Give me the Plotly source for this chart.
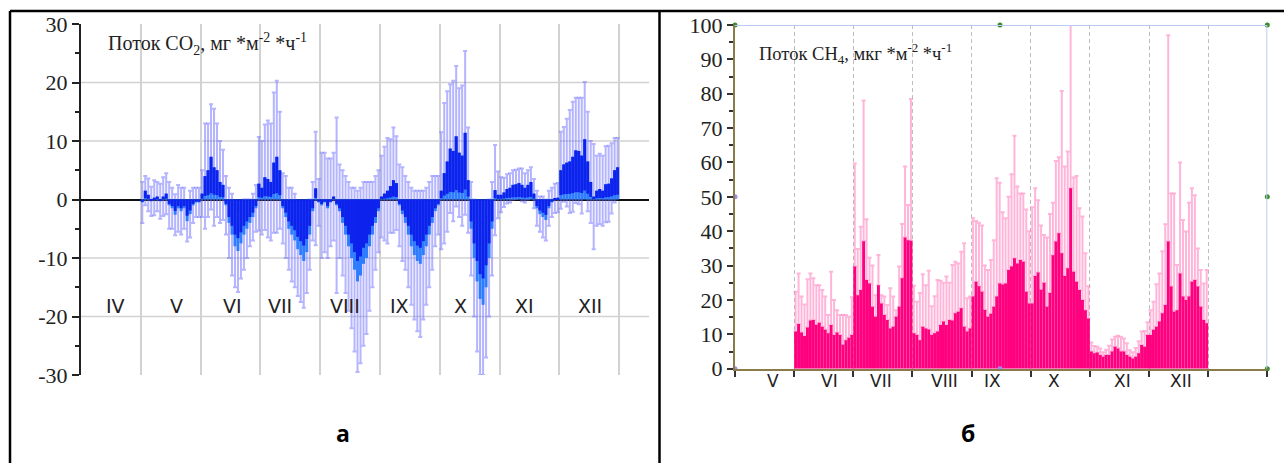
import plotly.graph_objects as go

# ---- CO2 flux, mg m-2 h-1 (20 sub-periods per month, V..XII) ----
co2_may = [-0.5, 1.5, 0.8, -0.3, 0.3, 0.5, -0.3, 0.5, 1.0, -1.0, -1.5, -2.6, -1.5, -2.0, -1.5, -3.7, -2.5, -1.0, -0.5, -0.5]
co2_may_sd = [3.5, 2.5, 2.8, 2.5, 3.0, 2.5, 3.0, 3.3, 3.5, 4.0, 3.5, 3.5, 4.0, 4.0, 3.5, 3.5, 4.0, 3.0, 2.5, 2.5]
co2_jun = [1.0, 4.0, 5.0, 7.3, 5.5, 5.0, 3.0, 2.5, -1.0, -4.0, -6.0, -8.0, -8.8, -7.5, -6.0, -5.0, -4.0, -3.0, -1.5, 2.7]
co2_jun_sd = [4, 9, 8, 9, 10, 8, 7, 6, 5, 6, 7, 7, 7, 6, 6, 5, 4, 4, 4, 8]
co2_jul = [2.0, 3.8, 3.5, 3.0, 6.3, 7.3, 5.0, -1.5, -3.0, -5.0, -6.0, -7.0, -8.5, -9.5, -10.5, -9.0, -6.0, -2.0, 1.9, -0.5]
co2_jul_sd = [8, 9, 10, 10, 12, 13, 10, 6, 7, 7, 8, 8, 8, 8, 8, 7, 6, 5, 9.7, 4]
co2_aug = [-1.0, -0.5, -1.5, -0.5, 0.5, -1.0, -2.0, -4.0, -6.0, -8.0, -10.0, -12.0, -14.0, -13.0, -11.0, -10.0, -8.0, -6.0, -4.0, -2.0]
co2_aug_sd = [9, 8.5, 8.5, 7.5, 7.5, 15, 8, 9, 10, 11, 12, 14, 15.5, 15, 14, 13, 11, 9, 8, 7]
co2_sep = [0.5, 1.0, 1.5, 2.3, 3.3, 2.8, -1.0, -2.5, -4.0, -6.0, -8.0, -9.5, -10.5, -11.0, -9.5, -8.0, -6.0, -4.0, -2.0, -1.0]
co2_sep_sd = [7, 8, 9, 8, 9, 8, 7, 8, 8, 9, 10, 11, 12, 12.5, 11, 10, 9, 8, 6, 5]
co2_oct = [1.5, 4.5, 6.5, 8.7, 8.3, 10.8, 8.0, 7.5, 11.4, 3.3, -5.0, -10.0, -14.0, -17.0, -18.0, -15.0, -10.0, -5.0, 1.6, 0.8]
co2_oct_sd = [10, 12, 12, 11, 12, 12, 11, 12, 14, 9, 8, 10, 12, 13, 12, 12, 10, 8, 7.7, 4]
co2_nov = [0.8, 1.2, 1.8, 2.0, 2.5, 2.6, 2.8, 2.5, 2.0, 2.5, 3.0, 1.0, -1.5, -2.5, -3.0, -3.5, -1.5, -0.5, 0.2, 0.3]
co2_nov_sd = [3, 2.5, 2.5, 2.5, 2.5, 2.5, 2.5, 2.8, 2.5, 2.5, 2.5, 2.5, 3, 3, 3.5, 3.5, 3, 2.5, 2.5, 2.5]
co2_dec = [5.0, 6.0, 6.3, 6.5, 7.3, 8.4, 8.3, 7.5, 10.3, 6.5, 3.0, 0.5, 1.5, 1.8, 1.5, 2.6, 2.7, 3.6, 5.0, 5.5]
co2_dec_sd = [6.6, 6.4, 7.5, 8.8, 9.4, 9.0, 9.1, 9.9, 9.8, 8.5, 7.0, 9.0, 6, 6, 6, 6.5, 6.5, 6, 5.5, 5]

# ---- CH4 flux, ug m-2 h-1 (20 sub-periods per month, VI..XII) ----
ch4_jun = [10.8, 13.0, 10.5, 9.5, 12.0, 14.0, 14.2, 12.8, 13.4, 12.2, 11.3, 10.3, 12.7, 9.8, 10.5, 9.8, 7.0, 8.3, 9.0, 9.8]
ch4_jun_sd = [11.6, 14.7, 10.5, 9.2, 14.0, 13.7, 12.1, 11.5, 10.9, 10.7, 9.7, 5.3, 15.5, 10.2, 6.5, 5.8, 8.6, 7.3, 6.1, 11.0]
ch4_jul = [29.7, 21.4, 22.9, 37.1, 25.8, 24.8, 18.0, 15.1, 24.3, 19.0, 15.6, 14.2, 11.7, 12.2, 15.1, 18.0, 26.3, 38.2, 37.4, 37.2]
ch4_jul_sd = [30.0, 13.4, 18.4, 40.9, 17.7, 7.5, 12.0, 6.3, 8.8, 2.4, 5.4, 4.3, 11.7, 8.8, 1.9, 11.7, 15.8, 20.6, 10.2, 41.3]
ch4_aug = [10.3, 9.8, 8.3, 12.2, 11.7, 11.4, 9.8, 10.3, 10.8, 12.7, 13.7, 12.7, 14.2, 14.0, 16.1, 16.6, 17.6, 12.2, 10.8, 11.7]
ch4_aug_sd = [13.8, 9.7, 13.7, 15.3, 12.6, 17.1, 8.4, 10.8, 15.0, 12.9, 11.3, 14.1, 10.8, 16.2, 15.0, 14.0, 16.4, 24.3, 9.7, 9.3]
ch4_sep = [21.0, 25.3, 24.0, 22.4, 17.1, 15.1, 16.0, 18.0, 21.0, 24.8, 24.5, 24.8, 28.7, 29.7, 32.1, 30.6, 31.6, 31.1, 22.4, 19.0]
ch4_sep_sd = [22.8, 17.7, 18.5, 19.3, 12.9, 13.6, 15.6, 19.4, 34.4, 29.3, 21.0, 19.0, 21.3, 26.9, 35.7, 22.4, 19.4, 19.9, 23.9, 21.0]
ch4_oct = [19.0, 27.0, 28.0, 23.0, 25.0, 18.0, 22.0, 33.0, 37.0, 39.4, 33.6, 27.0, 29.2, 52.5, 28.2, 25.3, 22.9, 20.0, 17.0, 14.6]
ch4_oct_sd = [28.0, 25.5, 21.0, 18.7, 13.9, 20.2, 23.0, 15.3, 23.4, 22.1, 47.2, 31.8, 34.0, 47.5, 27.4, 30.8, 23.8, 24.3, 16.6, 9.4]
ch4_nov = [5.0, 4.5, 4.7, 4.0, 3.5, 4.0, 4.0, 5.0, 6.4, 5.9, 5.0, 5.0, 4.0, 3.5, 3.0, 3.5, 4.5, 6.9, 6.4, 9.8]
ch4_nov_sd = [2.6, 2.1, 1.7, 1.9, 1.3, 1.5, 2.7, 3.5, 2.9, 3.7, 4.3, 3.8, 3.4, 1.9, 1.8, 2.5, 3.5, 3.9, 4.6, 3.7]
ch4_dec = [9.8, 11.3, 12.2, 13.7, 16.1, 18.5, 37.0, 23.9, 16.6, 17.0, 27.7, 21.0, 20.0, 21.0, 25.3, 25.8, 23.9, 18.0, 14.2, 13.2]
ch4_dec_sd = [7.2, 8.2, 12.4, 14.0, 18.1, 23.5, 60.0, 27.1, 34.4, 13.2, 32.3, 22.3, 19.9, 27.3, 27.2, 24.7, 11.1, 10.7, 10.6, 15.5]

co2_months = ["IV", "V", "VI", "VII", "VIII", "IX", "X", "XI", "XII"]
co2_month_pos = [0.57, 1.59, 2.54, 3.33, 4.41, 5.32, 6.34, 7.41, 8.51]
ch4_months = ["V", "VI", "VII", "VIII", "IX", "X", "XI", "XII"]
ch4_month_pos = [0.64, 1.59, 2.46, 3.55, 4.35, 5.39, 6.56, 7.54]
co2_ticks = [-30, -20, -10, 0, 10, 20, 30]
ch4_ticks = [0, 10, 20, 30, 40, 50, 60, 70, 80, 90, 100]

N_SUB = 20
BAR_W = 1.0 / N_SUB
W, H = 1284, 463


def series(blocks, first_month):
    xs, ys, es = [], [], []
    for k, (vals, sds) in enumerate(blocks):
        for i, (v, e) in enumerate(zip(vals, sds)):
            xs.append(first_month + k + (i + 0.5) / N_SUB)
            ys.append(v)
            es.append(e)
    return xs, ys, es


co2_x, co2_y, co2_e = series(
    [(co2_may, co2_may_sd), (co2_jun, co2_jun_sd), (co2_jul, co2_jul_sd), (co2_aug, co2_aug_sd),
     (co2_sep, co2_sep_sd), (co2_oct, co2_oct_sd), (co2_nov, co2_nov_sd), (co2_dec, co2_dec_sd)], 1)
ch4_x, ch4_y, ch4_e = series(
    [(ch4_jun, ch4_jun_sd), (ch4_jul, ch4_jul_sd), (ch4_aug, ch4_aug_sd), (ch4_sep, ch4_sep_sd),
     (ch4_oct, ch4_oct_sd), (ch4_nov, ch4_nov_sd), (ch4_dec, ch4_dec_sd)], 1)

fig = go.Figure()

# CO2: error bars first (transparent bars), then two-tone bars on top
fig.add_trace(go.Bar(
    x=co2_x, y=co2_y, width=BAR_W, marker=dict(color="rgba(0,0,0,0)", line=dict(width=0)),
    error_y=dict(type="data", array=co2_e, symmetric=True, color="rgba(105,105,255,0.5)",
                 thickness=2, width=2),
    xaxis="x", yaxis="y", showlegend=False, hoverinfo="skip"))
fig.add_trace(go.Bar(
    x=co2_x, y=co2_y, width=BAR_W, marker=dict(color="#2f7dff", line=dict(width=0)),
    xaxis="x", yaxis="y", showlegend=False))
dark_base = [0.15 * v if v > 0 else 0.0 for v in co2_y]
dark_len = [0.85 * v if v > 0 else 0.75 * v for v in co2_y]
fig.add_trace(go.Bar(
    x=co2_x, y=dark_len, base=dark_base, width=BAR_W, marker=dict(color="#0d22ec", line=dict(width=0)),
    xaxis="x", yaxis="y", showlegend=False, hoverinfo="skip"))

# CH4: upper error bars and solid bars
fig.add_trace(go.Bar(
    x=ch4_x, y=ch4_y, width=BAR_W, marker=dict(color="rgba(0,0,0,0)", line=dict(width=0)),
    error_y=dict(type="data", array=ch4_e, arrayminus=[0] * len(ch4_e), symmetric=False,
                 color="rgba(255,120,185,0.55)", thickness=2, width=2),
    xaxis="x2", yaxis="y2", showlegend=False, hoverinfo="skip"))
fig.add_trace(go.Bar(
    x=ch4_x, y=ch4_y, width=BAR_W, marker=dict(color="#ff007f", line=dict(width=0)),
    xaxis="x2", yaxis="y2", showlegend=False))

# frame selection handles on the CH4 plot
fig.add_trace(go.Scatter(
    x=[0, 4.48, 9, 9, 9], y=[100, 100, 100, 50, 0], mode="markers",
    marker=dict(color="#3c8c2c", size=5), cliponaxis=False,
    xaxis="x2", yaxis="y2", showlegend=False, hoverinfo="skip"))
fig.add_trace(go.Scatter(
    x=[0, 0, 4.48], y=[50, 0, 0], mode="markers",
    marker=dict(color="#9a8cf0", size=5), cliponaxis=False,
    xaxis="x2", yaxis="y2", showlegend=False, hoverinfo="skip"))

serif = "Liberation Serif"
tickfont = dict(family=serif, size=22, color="#222")

shapes = []
for gy in [-20, -10, 10, 20]:
    shapes.append(dict(type="line", xref="x domain", yref="y", x0=0, x1=1, y0=gy, y1=gy,
                       line=dict(color="#d2d2d2", width=1.5), layer="below"))
# light-blue top and right border of the CH4 plot
shapes.append(dict(type="line", xref="x2", yref="y2", x0=0, x1=9, y0=100, y1=100,
                   line=dict(color="#b9cbf5", width=2)))
shapes.append(dict(type="line", xref="x2", yref="y2", x0=9, x1=9, y0=0, y1=100,
                   line=dict(color="#b9cbf5", width=2)))
# table frame
top_y = 1 - 11 / H
shapes.append(dict(type="line", xref="paper", yref="paper", x0=10 / W, x1=1, y0=top_y, y1=top_y,
                   line=dict(color="black", width=2.5)))
shapes.append(dict(type="line", xref="paper", yref="paper", x0=10 / W, x1=10 / W, y0=0, y1=top_y,
                   line=dict(color="black", width=2.5)))
shapes.append(dict(type="line", xref="paper", yref="paper", x0=659.5 / W, x1=659.5 / W, y0=0, y1=top_y,
                   line=dict(color="black", width=2.5)))

annotations = []
for name, pos in zip(co2_months, co2_month_pos):
    annotations.append(dict(x=pos, y=-18.2, xref="x", yref="y", text=name, showarrow=False,
                            yanchor="middle", font=dict(family="DejaVu Sans", size=19, color="#222")))
for name, pos in zip(ch4_months, ch4_month_pos):
    annotations.append(dict(x=pos, y=1 - 381 / H, xref="x2", yref="paper", text=name, showarrow=False,
                            yanchor="middle", font=dict(family="DejaVu Sans", size=17, color="#222")))
annotations.append(dict(x=106 / W, y=1 - 44 / H, xref="paper", yref="paper", xanchor="left",
                        yanchor="middle",
                        text="Поток CO<sub>2</sub>, мг *м<sup>-2</sup> *ч<sup>-1</sup>", showarrow=False,
                        font=dict(family=serif, size=20, color="#222")))
annotations.append(dict(x=757 / W, y=1 - 53 / H, xref="paper", yref="paper", xanchor="left",
                        yanchor="middle",
                        text="Поток CH<sub>4</sub>, мкг *м<sup>-2</sup> *ч<sup>-1</sup>", showarrow=False,
                        font=dict(family=serif, size=18.5, color="#222")))
annotations.append(dict(x=334 / W, y=1 - 433 / H, xref="paper", yref="paper", text="<b>а</b>",
                        yanchor="middle", showarrow=False,
                        font=dict(family="Open Sans", size=23, color="black")))
annotations.append(dict(x=977 / W, y=1 - 433 / H, xref="paper", yref="paper", text="<b>б</b>",
                        yanchor="middle", showarrow=False,
                        font=dict(family="Open Sans", size=23, color="black")))

fig.update_layout(
    width=W, height=H, autosize=False,
    margin=dict(l=0, r=0, t=0, b=0, pad=0, autoexpand=False),
    paper_bgcolor="white", plot_bgcolor="rgba(0,0,0,0)",
    barmode="overlay", showlegend=False,
    xaxis=dict(domain=[81 / W, 649 / W], range=[0, 9.5], anchor="y", automargin=False,
               showgrid=True, gridcolor="#d2d2d2", gridwidth=1.5, tick0=0, dtick=1,
               showticklabels=False, ticks="", zeroline=False, showline=False),
    yaxis=dict(domain=[1 - 375 / H, 1 - 24 / H], range=[-30, 30], anchor="x", automargin=False,
               showgrid=False, zeroline=True, zerolinecolor="#111", zerolinewidth=1.5,
               showline=True, linecolor="#222", linewidth=2, ticks="outside", ticklen=7,
               tickwidth=1.5, tickcolor="#222", tickmode="array", tickvals=co2_ticks,
               ticktext=[str(t) for t in co2_ticks], tickfont=tickfont,
               minor=dict(ticks="outside", ticklen=4, dtick=5, tickcolor="#222", tickwidth=1.5)),
    xaxis2=dict(domain=[735 / W, 1267.3 / W], range=[0, 9], anchor="y2", automargin=False,
                showgrid=True, gridcolor="#bdbdbd", gridwidth=1, griddash="4px,3px", tick0=0, dtick=1,
                showticklabels=False, ticks="outside", ticklen=6, tickcolor="#333", tickwidth=1.5,
                zeroline=False, showline=True, linecolor="#8b7b4a", linewidth=2),
    yaxis2=dict(domain=[1 - 368.7 / H, 1 - 25 / H], range=[0, 100], anchor="x2", automargin=False,
                showgrid=False, zeroline=False, showline=True, linecolor="#8b7b4a", linewidth=2,
                ticks="outside", ticklen=6, tickwidth=1.5, tickcolor="#333", tickmode="array",
                tickvals=ch4_ticks, ticktext=[str(t) for t in ch4_ticks], tickfont=tickfont,
                minor=dict(ticks="outside", ticklen=4, dtick=5, tickcolor="#333", tickwidth=1.5)),
    shapes=shapes, annotations=annotations,
)

fig.write_html("out.html", post_script="document.body.style.margin='0';")
